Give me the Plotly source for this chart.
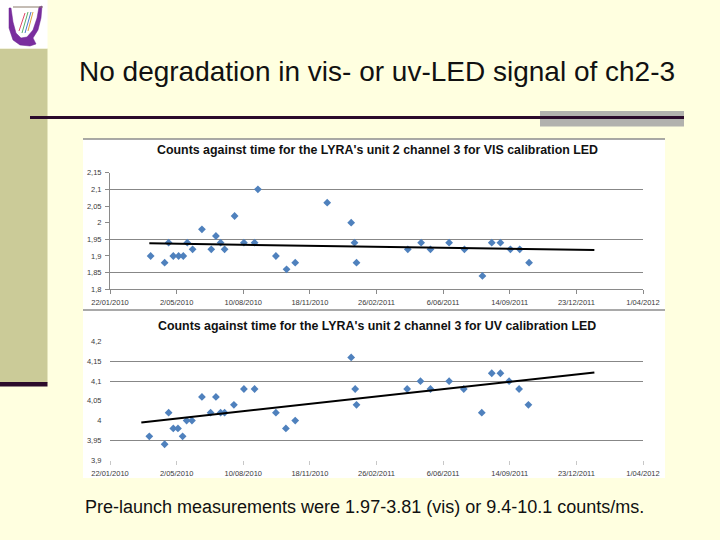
import plotly.graph_objects as go

W, H = 720, 540

# ---------------- data ----------------
x_tick_dates = ["2010-01-22", "2010-05-02", "2010-08-10", "2010-11-18", "2011-02-26",
                "2011-06-06", "2011-09-14", "2011-12-23", "2012-04-01"]
x_tick_labels = ["22/01/2010", "2/05/2010", "10/08/2010", "18/11/2010", "26/02/2011",
                 "6/06/2011", "14/09/2011", "23/12/2011", "1/04/2012"]

vis_dates = ["2010-03-24", "2010-04-14", "2010-04-20", "2010-04-27", "2010-05-05", "2010-05-12",
             "2010-05-18", "2010-05-26", "2010-06-09", "2010-06-23", "2010-06-30", "2010-07-07",
             "2010-07-13", "2010-07-28", "2010-08-11", "2010-08-27", "2010-09-01", "2010-09-28",
             "2010-10-14", "2010-10-27", "2010-12-14", "2011-01-19", "2011-01-24", "2011-01-27",
             "2011-04-14", "2011-05-04", "2011-05-18", "2011-06-15", "2011-07-08", "2011-08-04",
             "2011-08-18", "2011-08-31", "2011-09-15", "2011-09-29", "2011-10-13"]
vis_values = [1.90, 1.88, 1.94, 1.90, 1.90, 1.90, 1.94, 1.92, 1.98, 1.92,
              1.96, 1.94, 1.92, 2.02, 1.94, 1.94, 2.10, 1.90, 1.86, 1.88,
              2.06, 2.00, 1.94, 1.88, 1.92, 1.94, 1.92, 1.94, 1.92, 1.84,
              1.94, 1.94, 1.92, 1.92, 1.88]
vis_trend_dates = ["2010-03-22", "2012-01-19"]
vis_trend_values = [1.938, 1.918]
vis_tick_vals = [1.8, 1.85, 1.9, 1.95, 2.0, 2.05, 2.1, 2.15]
vis_tick_text = ["1,8", "1,85", "1,9", "1,95", "2", "2,05", "2,1", "2,15"]
vis_grid_vals = [1.85, 1.95, 2.1]

uv_dates = ["2010-03-22", "2010-04-14", "2010-04-20", "2010-04-27", "2010-05-04", "2010-05-11",
            "2010-05-17", "2010-05-25", "2010-06-09", "2010-06-22", "2010-06-30", "2010-07-07",
            "2010-07-13", "2010-07-27", "2010-08-11", "2010-08-27", "2010-09-28", "2010-10-13",
            "2010-10-27", "2011-01-19", "2011-01-25", "2011-01-27", "2011-04-13", "2011-05-03",
            "2011-05-18", "2011-06-15", "2011-07-07", "2011-08-03", "2011-08-18", "2011-08-31",
            "2011-09-13", "2011-09-28", "2011-10-12"]
uv_values = [3.96, 3.94, 4.02, 3.98, 3.98, 3.96, 4.00, 4.00, 4.06, 4.02,
             4.06, 4.02, 4.02, 4.04, 4.08, 4.08, 4.02, 3.98, 4.00, 4.16,
             4.08, 4.04, 4.08, 4.10, 4.08, 4.10, 4.08, 4.02, 4.12, 4.12,
             4.10, 4.08, 4.04]
uv_trend_dates = ["2010-03-10", "2012-01-19"]
uv_trend_values = [3.995, 4.122]
uv_tick_vals = [3.9, 3.95, 4.0, 4.05, 4.1, 4.15, 4.2]
uv_tick_text = ["3,9", "3,95", "4", "4,05", "4,1", "4,15", "4,2"]
uv_grid_vals = [3.95, 4.1, 4.15]

main_title = "No degradation in vis- or uv-LED signal of ch2-3"
vis_title = "Counts against time for the LYRA's unit 2 channel 3 for VIS calibration LED"
uv_title = "Counts against time for the LYRA's unit 2 channel 3 for UV calibration LED"
footer = "Pre-launch measurements were 1.97-3.81 (vis) or 9.4-10.1 counts/ms."

# ---------------- helpers ----------------
def px(x):
    return x / W

def py(y):
    return 1 - y / H

BG = "#FFFFE0"
MARK = "#4F81BD"
GRID = "#878787"
TICKF = dict(family="Liberation Sans, Arial, sans-serif", size=7.5, color="#3A3A3A")

fig = go.Figure()

fig.add_trace(go.Scatter(x=vis_dates, y=vis_values, mode="markers",
                         marker=dict(symbol="diamond", size=6, color=MARK),
                         xaxis="x", yaxis="y", showlegend=False, hoverinfo="skip"))
fig.add_trace(go.Scatter(x=vis_trend_dates, y=vis_trend_values, mode="lines",
                         line=dict(color="black", width=2),
                         xaxis="x", yaxis="y3", showlegend=False, hoverinfo="skip"))
fig.add_trace(go.Scatter(x=uv_dates, y=uv_values, mode="markers",
                         marker=dict(symbol="diamond", size=6, color=MARK),
                         xaxis="x2", yaxis="y2", showlegend=False, hoverinfo="skip"))
fig.add_trace(go.Scatter(x=uv_trend_dates, y=uv_trend_values, mode="lines",
                         line=dict(color="black", width=2),
                         xaxis="x2", yaxis="y4", showlegend=False, hoverinfo="skip"))

xdom = [px(110), px(643)]
vis_dom = [py(289.3), py(172.7)]
uv_dom = [py(460.0), py(341.7)]
xrange = ["2010-01-22", "2012-04-01"]

common_x = dict(type="date", range=xrange, tickmode="array", tickvals=x_tick_dates,
                ticktext=x_tick_labels, showgrid=False, zeroline=False, tickfont=TICKF,
                ticks="outside", ticklen=4, ticklabelstandoff=2, automargin=False)

fig.update_layout(
    width=W, height=H,
    margin=dict(l=0, r=0, t=0, b=0, pad=0, autoexpand=False),
    paper_bgcolor=BG, plot_bgcolor="rgba(0,0,0,0)",
    font=dict(family="Liberation Sans, Arial, sans-serif"),
    showlegend=False,
    xaxis=dict(domain=xdom, anchor="y", showline=True, linecolor="#8A8A8A", linewidth=1,
               tickcolor="#8A8A8A", **common_x),
    yaxis=dict(domain=vis_dom, anchor="x", range=[1.8, 2.15], tickmode="array",
               tickvals=vis_tick_vals, ticktext=vis_tick_text, showgrid=False, zeroline=False,
               showline=True, linecolor="#8A8A8A", ticks="outside", ticklen=4,
               tickcolor="#8A8A8A", tickfont=TICKF, ticklabelstandoff=2, automargin=False),
    yaxis3=dict(overlaying="y", anchor="x", range=[1.8, 2.15], tickmode="array",
                tickvals=vis_grid_vals, showticklabels=False, showgrid=True, gridcolor=GRID,
                gridwidth=1, zeroline=False, showline=False, ticks="", automargin=False),
    xaxis2=dict(domain=xdom, anchor="y2", showline=False, tickcolor="#C8C8C8", **common_x),
    yaxis2=dict(domain=uv_dom, anchor="x2", range=[3.9, 4.2], tickmode="array",
                tickvals=uv_tick_vals, ticktext=uv_tick_text, showgrid=False, zeroline=False,
                showline=False, ticks="outside", ticklen=4, tickcolor="rgba(0,0,0,0)",
                tickfont=TICKF, ticklabelstandoff=2, automargin=False),
    yaxis4=dict(overlaying="y2", anchor="x2", range=[3.9, 4.2], tickmode="array",
                tickvals=uv_grid_vals, showticklabels=False, showgrid=True, gridcolor=GRID,
                gridwidth=1, zeroline=False, showline=False, ticks="", automargin=False),
)

shapes = []
# chart backgrounds (white panel)
shapes.append(dict(type="rect", xref="paper", yref="paper", layer="below",
                   x0=px(83), x1=px(665), y0=py(478), y1=py(139),
                   fillcolor="white", line=dict(width=0)))
shapes.append(dict(type="line", xref="paper", yref="paper", layer="below",
                   x0=px(83), x1=px(665), y0=py(139), y1=py(139),
                   line=dict(color="#8C8C8C", width=1.5)))
shapes.append(dict(type="line", xref="paper", yref="paper", layer="below",
                   x0=px(83), x1=px(665), y0=py(310), y1=py(310),
                   line=dict(color="#8C8C8C", width=1.5)))
# left khaki bar
shapes.append(dict(type="rect", xref="paper", yref="paper", layer="below",
                   x0=0, x1=px(47.5), y0=py(383), y1=py(48.5),
                   fillcolor="#CBCB98", line=dict(width=0)))
shapes.append(dict(type="rect", xref="paper", yref="paper", layer="below",
                   x0=0, x1=px(47.5), y0=py(386.5), y1=py(382),
                   fillcolor="#2B0B2B", line=dict(width=0)))
# logo area
shapes.append(dict(type="rect", xref="paper", yref="paper", layer="below",
                   x0=0, x1=px(47.5), y0=py(48.5), y1=1,
                   fillcolor="white", line=dict(width=0)))

def pth(points, close=True):
    s = "M " + " L ".join(f"{px(x):.5f},{py(y):.5f}" for x, y in points)
    return s + (" Z" if close else "")

lyre = [(9, 8), (11, 8), (13, 22), (16, 33), (21, 38), (27, 37), (33, 30), (37, 18), (39, 7),
        (42, 6), (41, 18), (38, 30), (33, 38), (36, 44), (30, 46), (20, 45), (13, 40), (9, 28)]
shapes.append(dict(type="path", xref="paper", yref="paper", path=pth(lyre),
                   fillcolor="#7A2E9E", line=dict(color="#6A2090", width=0.5)))
shapes.append(dict(type="line", xref="paper", yref="paper",
                   x0=px(13), x1=px(43), y0=py(7), y1=py(7),
                   line=dict(color="#8A7A6A", width=1)))
for (xa, ya, xb, yb, c) in [(19, 31, 25, 13, "#E04A6A"), (22, 33, 28, 12, "#5AB06A"),
                            (25, 33, 31, 12, "#4A7AD0"), (28, 31, 33, 12, "#E0A040")]:
    shapes.append(dict(type="line", xref="paper", yref="paper",
                       x0=px(xa), x1=px(xb), y0=py(ya), y1=py(yb),
                       line=dict(color=c, width=1)))
# header rule
shapes.append(dict(type="rect", xref="paper", yref="paper", layer="below",
                   x0=px(540), x1=px(684), y0=py(126.5), y1=py(111),
                   fillcolor="#B2B2AE", line=dict(width=0)))
shapes.append(dict(type="line", xref="paper", yref="paper",
                   x0=px(30), x1=px(684), y0=py(117.5), y1=py(117.5),
                   line=dict(color="#2B0B2B", width=3)))
fig.update_layout(shapes=shapes)

ann = []
ann.append(dict(text=main_title, xref="paper", yref="paper", x=px(377), y=py(72),
                xanchor="center", yanchor="middle", showarrow=False,
                font=dict(family="Liberation Sans, Arial, sans-serif", size=28, color="#111111")))
ann.append(dict(text="<b>" + vis_title + "</b>", xref="paper", yref="paper", x=px(377), y=py(149.5),
                xanchor="center", yanchor="middle", showarrow=False,
                font=dict(family="Liberation Sans Narrow, Arial Narrow, sans-serif", size=12.4,
                          color="#111111")))
ann.append(dict(text="<b>" + uv_title + "</b>", xref="paper", yref="paper", x=px(377), y=py(326),
                xanchor="center", yanchor="middle", showarrow=False,
                font=dict(family="Liberation Sans Narrow, Arial Narrow, sans-serif", size=12.4,
                          color="#111111")))
ann.append(dict(text=footer, xref="paper", yref="paper", x=px(83), y=py(507),
                xanchor="left", yanchor="middle", showarrow=False,
                font=dict(family="Liberation Sans, Arial, sans-serif", size=18, color="#111111")))
fig.update_layout(annotations=ann)

fig.write_html("out.html", config={"displayModeBar": False},
               post_script="document.body.style.margin='0';document.body.style.padding='0';")
